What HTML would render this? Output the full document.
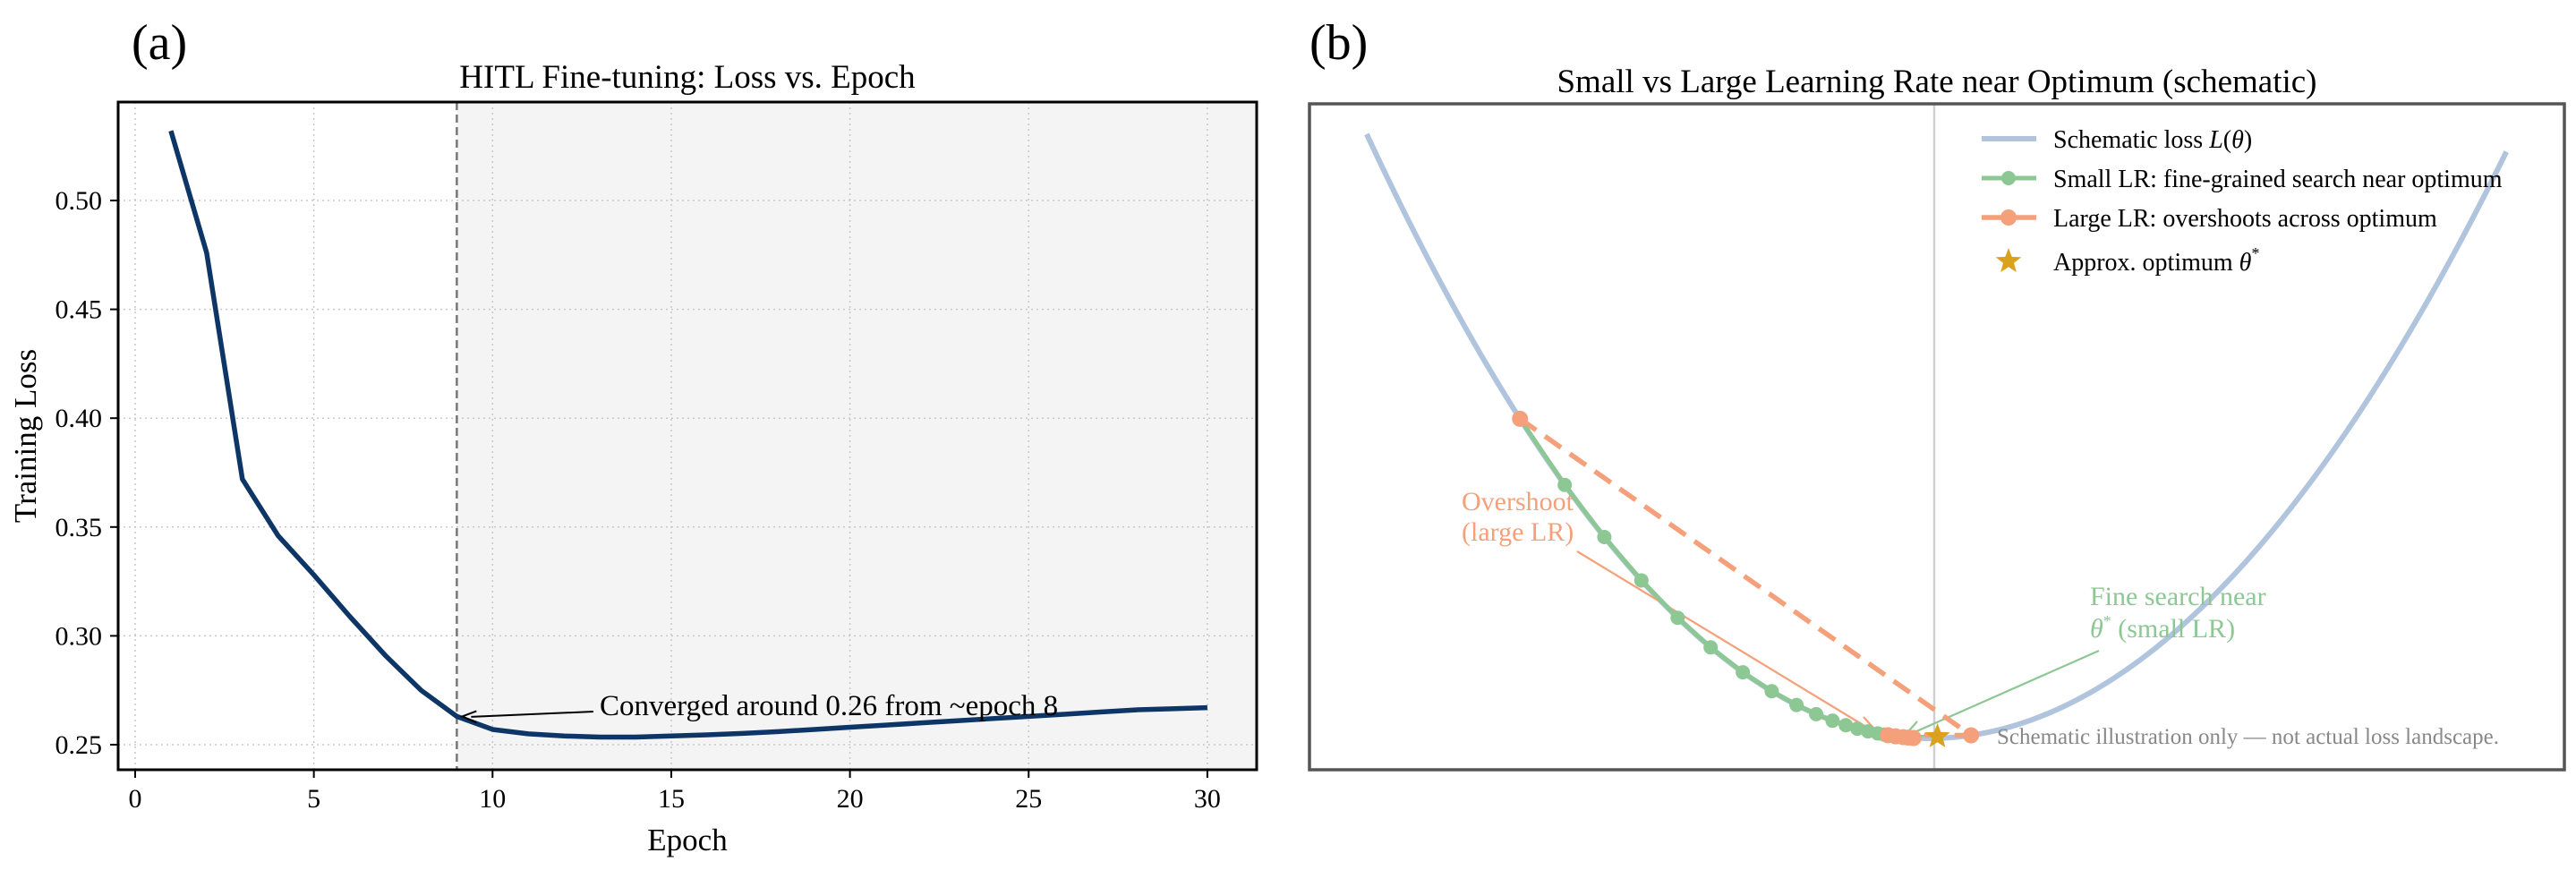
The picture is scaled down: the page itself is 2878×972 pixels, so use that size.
<!DOCTYPE html>
<html><head><meta charset="utf-8">
<style>
html,body{margin:0;padding:0;background:#fff;}
svg{display:block;font-family:"Liberation Serif",serif;}
</style></head>
<body>
<svg id="fig" width="2878" height="972" viewBox="0 0 2878 972" xmlns="http://www.w3.org/2000/svg"></svg>
<script>
// ---------- Panel (a) data ----------
const epochs = [1,2,3,4,5,6,7,8,9,10,11,12,13,14,15,16,17,18,19,20,21,22,23,24,25,26,27,28,29,30];
const lossValues = [0.532,0.476,0.372,0.346,0.328,0.309,0.291,0.275,0.263,0.257,0.255,0.254,0.2535,0.2535,0.254,0.2545,0.2552,0.256,0.257,0.258,0.259,0.260,0.261,0.262,0.263,0.264,0.265,0.266,0.2665,0.267];
const xTicksA = [0,5,10,15,20,25,30];
const yTicksA = [0.25,0.30,0.35,0.40,0.45,0.50];
const convergeEpoch = 9;

// ---------- Panel (b) data ----------
const curveThetaMin = -2.2, curveThetaMax = 2.26;
const rightCurvature = 0.92;
const smallLR = [-1.6,-1.425,-1.27,-1.125,-0.983,-0.854,-0.728,-0.615,-0.518,-0.441,-0.377,-0.325,-0.28,-0.238,-0.2,-0.175,-0.155,-0.14,-0.13];
const largeLR = [-1.6,0.165,-0.16,-0.13,-0.1,-0.08,-0.06];
const optimumTheta = 0.03;

const NS="http://www.w3.org/2000/svg";
const svg=document.getElementById('fig');
function mk(tag,attrs,parent){const e=document.createElementNS(NS,tag);for(const k in attrs)e.setAttribute(k,attrs[k]);(parent||svg).appendChild(e);return e;}
function txt(s,attrs,parent){const e=mk('text',attrs,parent);e.textContent=s;return e;}
function lossB(t){return t<0?t*t:rightCurvature*t*t;}

// ===== Panel a =====
const A={l:132,r:1404,t:114,b:860};
const xA=v=>151+v*39.93;
const yA=v=>832-(v-0.25)*2432;
const ga=mk('g',{});


const shade=mk('rect',{x:xA(convergeEpoch),y:A.t,width:A.r-xA(convergeEpoch),height:A.b-A.t,fill:'#f4f4f4'},ga);


xTicksA.forEach(v=>{
  const g=mk('line',{x1:xA(v),x2:xA(v),y1:A.t,y2:A.b,stroke:'#c8c8c8','stroke-width':1.5,'stroke-dasharray':'2,4'},ga);
  
  
  mk('line',{x1:xA(v),x2:xA(v),y1:A.b,y2:A.b+9,stroke:'#000','stroke-width':2},ga);
  const t=txt(String(v),{x:xA(v),y:902,'font-size':30,'text-anchor':'middle'},ga);
  
  
});
yTicksA.forEach(v=>{
  const g=mk('line',{x1:A.l,x2:A.r,y1:yA(v),y2:yA(v),stroke:'#c8c8c8','stroke-width':1.5,'stroke-dasharray':'2,4'},ga);
  
  
  mk('line',{x1:A.l-9,x2:A.l,y1:yA(v),y2:yA(v),stroke:'#000','stroke-width':2},ga);
  const t=txt(v.toFixed(2),{x:114,y:yA(v)+10,'font-size':30,'text-anchor':'end'},ga);
  
  
});
const vl=mk('line',{x1:xA(convergeEpoch),x2:xA(convergeEpoch),y1:A.t,y2:A.b,stroke:'#777','stroke-width':2.5,'stroke-dasharray':'9,5'},ga);


const lp=mk('polyline',{points:epochs.map((e,i)=>xA(e)+','+yA(lossValues[i])).join(' '),fill:'none',stroke:'#0d3566','stroke-width':5.5,'stroke-linejoin':'round'},ga);


const fr=mk('rect',{x:A.l,y:A.t,width:A.r-A.l,height:A.b-A.t,fill:'none',stroke:'#000','stroke-width':3},ga);


const ax=xA(convergeEpoch)+6, ay=yA(lossValues[8]);
mk('line',{x1:663,y1:795,x2:ax+10,y2:ay+0.5,stroke:'#000','stroke-width':2},ga);
mk('path',{d:`M${ax+16},${ay-6} L${ax},${ay} L${ax+16},${ay+7}`,fill:'none',stroke:'#000','stroke-width':2},ga);
const an=txt('Converged around 0.26 from ~epoch 8',{x:670,y:799,'font-size':33},ga);


const ta=txt('HITL Fine-tuning: Loss vs. Epoch',{x:768,y:98,'font-size':37,'text-anchor':'middle'},ga);


const la=txt('(a)',{x:147,y:66,'font-size':56},ga);


const xl=txt('Epoch',{x:768,y:950,'font-size':35,'text-anchor':'middle'},ga);


const yl=txt('Training Loss',{x:0,y:0,'font-size':35,'text-anchor':'middle',transform:'translate(40,487) rotate(-90)'},ga);



// ===== Panel b =====
const B={l:1463,r:2865,t:116,b:860};
const xB=th=>2155+th*285.5;
const yB=L=>825-L*139.5;
const gb=mk('g',{});


const ov=mk('line',{x1:2161,x2:2161,y1:B.t,y2:B.b,stroke:'#cfcfcf','stroke-width':2.5},gb);


let pts=[];for(let i=0;i<=200;i++){const th=curveThetaMin+(curveThetaMax-curveThetaMin)*i/200;pts.push(xB(th)+','+yB(lossB(th)));}
const cv=mk('polyline',{points:pts.join(' '),fill:'none',stroke:'#b0c4de','stroke-width':6},gb);


mk('line',{x1:1762,y1:616,x2:2098,y2:820,stroke:'#f4a07a','stroke-width':2.2},gb);
mk('path',{d:'M2082,801 L2101,822 L2075,815',fill:'none',stroke:'#f4a07a','stroke-width':2.2},gb);
mk('line',{x1:2345,y1:727,x2:2130,y2:822,stroke:'#8dc794','stroke-width':2.2},gb);
mk('path',{d:'M2142,806 L2127,823 L2150,822',fill:'none',stroke:'#8dc794','stroke-width':2.2},gb);
const sl=mk('polyline',{points:smallLR.map(t=>xB(t)+','+yB(lossB(t))).join(' '),fill:'none',stroke:'#8dc794','stroke-width':5},gb);


smallLR.forEach(t=>{const c=mk('circle',{cx:xB(t),cy:yB(lossB(t)),r:8,fill:'#8dc794'},gb);

});
const ll=mk('polyline',{points:largeLR.map(t=>xB(t)+','+yB(lossB(t))).join(' '),fill:'none',stroke:'#f4a07a','stroke-width':5.5,'stroke-dasharray':'22,12'},gb);


largeLR.forEach(t=>{const c=mk('circle',{cx:xB(t),cy:yB(lossB(t)),r:9,fill:'#f4a07a'},gb);

});
function star(cx,cy,R,parent){let p=[];for(let i=0;i<10;i++){const r=i%2?R*0.42:R;const a=-Math.PI/2+i*Math.PI/5;p.push((cx+r*Math.cos(a)).toFixed(1)+','+(cy+r*Math.sin(a)).toFixed(1));}return mk('polygon',{points:p.join(' '),fill:'#daa21c'},parent);}
const st=star(xB(optimumTheta)+1,yB(lossB(optimumTheta))-2,15,gb);


const fb=mk('rect',{x:B.l,y:B.t,width:B.r-B.l,height:B.b-B.t,fill:'none',stroke:'#555','stroke-width':3.5},gb);


const o1=txt('Overshoot',{x:1633,y:570,'font-size':30,fill:'#f4a07a'},gb);


txt('(large LR)',{x:1633,y:604,'font-size':30,fill:'#f4a07a'},gb);
const f1=txt('Fine search near',{x:2335,y:676,'font-size':30,fill:'#8dc794'},gb);


const f2=txt('',{x:2335,y:712,'font-size':30,fill:'#8dc794'},gb);
const ts1=mk('tspan',{'font-style':'italic'},f2);ts1.textContent='θ';
const ts2=mk('tspan',{'font-size':18,dy:-12},f2);ts2.textContent='*';
const ts3=mk('tspan',{dy:12},f2);ts3.textContent='  (small LR)';
const nt=txt('Schematic illustration only — not actual loss landscape.',{x:2231,y:831,'font-size':25,fill:'#888'},gb);


const lg=mk('g',{},gb);


const rows=[155,199,243,292];
mk('line',{x1:2214,x2:2275,y1:rows[0],y2:rows[0],stroke:'#b0c4de','stroke-width':6},lg);
mk('line',{x1:2214,x2:2275,y1:rows[1],y2:rows[1],stroke:'#8dc794','stroke-width':5},lg);
mk('circle',{cx:2244,cy:rows[1],r:8,fill:'#8dc794'},lg);
mk('line',{x1:2214,x2:2275,y1:rows[2],y2:rows[2],stroke:'#f4a07a','stroke-width':5.5},lg);
mk('circle',{cx:2244,cy:rows[2],r:9,fill:'#f4a07a'},lg);
star(2244,rows[3],15,lg);
const l1=txt('Schematic loss ',{x:2294,y:rows[0]+10,'font-size':28},lg);


const a1=mk('tspan',{'font-style':'italic'},l1);a1.textContent='L';
const a2=mk('tspan',{},l1);a2.textContent='(';
const a3=mk('tspan',{'font-style':'italic'},l1);a3.textContent='θ';
const a4=mk('tspan',{},l1);a4.textContent=')';
const l2=txt('Small LR: fine-grained search near optimum',{x:2294,y:rows[1]+10,'font-size':28},lg);


const l3=txt('Large LR: overshoots across optimum',{x:2294,y:rows[2]+10,'font-size':28},lg);


const l4=txt('Approx. optimum ',{x:2294,y:rows[3]+10,'font-size':28},lg);


const b1=mk('tspan',{'font-style':'italic'},l4);b1.textContent='θ';
const b2=mk('tspan',{'font-size':18,dy:-13},l4);b2.textContent='*';
const tb=txt('Small vs Large Learning Rate near Optimum (schematic)',{x:2164,y:103,'font-size':37,'text-anchor':'middle'},gb);


const lb=txt('(b)',{x:1463,y:66,'font-size':56},gb);


</script>
</body></html>
